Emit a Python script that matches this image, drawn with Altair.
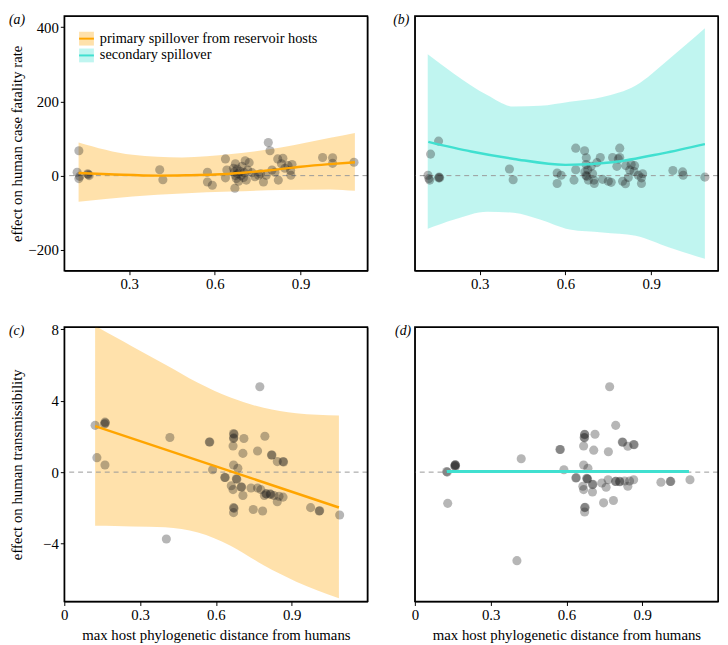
import altair as alt
import pandas as pd

FONT = "Liberation Serif"
ORANGE = "#FFA500"
TURQ = "#40E0D0"

# ---------------- panel (a): case fatality, primary spillover ----------------
a_px = [0.124, 0.118, 0.127, 0.124, 0.155, 0.157, 0.160, 0.407, 0.418, 0.574, 0.574, 0.591,
        0.637, 0.637, 0.642, 0.670, 0.672, 0.665, 0.668, 0.672, 0.675, 0.678, 0.680, 0.683,
        0.688, 0.692, 0.695, 0.700, 0.703, 0.706, 0.710, 0.715, 0.720, 0.730, 0.740, 0.753,
        0.760, 0.770, 0.780, 0.787, 0.793, 0.800, 0.810, 0.822, 0.820, 0.838, 0.833, 0.845,
        0.856, 0.865, 0.866, 0.870, 0.977, 1.012, 1.012, 1.087]
a_py = [67, 9, -2, -8, 5, 3, 0, 16, -11, 9, -17, -26,
        45, -6, 15, -34, 32, 20, 10, 0, -8, 18, 5, -15,
        12, 0, 25, -5, 8, 40, -12, 15, 35, 8, -3, 1,
        5, -17, 1, 89, 67, 15, 9, -12, 45, 47, 32, 20,
        27, 14, 1, 30, 49, 48, 33, 36]
a_line_x = [0.123, 0.25, 0.40, 0.50, 0.60, 0.70, 0.80, 0.90, 1.00, 1.09]
a_line_y = [7, 3, 0, 1, 3, 8, 15, 24, 31, 36]
a_band_x = [0.123, 0.312, 0.485, 0.658, 0.831, 1.004, 1.090]
a_band_hi = [89, 56, 49, 58, 76, 102, 115]
a_band_lo = [-70, -56, -48, -43, -39, -37, -41]

# ---------------- panel (b): case fatality, secondary spillover ----------------
b_px = [0.119, 0.125, 0.122, 0.128, 0.156, 0.156, 0.158, 0.160, 0.404, 0.417, 0.571, 0.571,
        0.585, 0.636, 0.636, 0.630, 0.667, 0.673, 0.672, 0.668, 0.672, 0.675, 0.678, 0.680,
        0.690, 0.695, 0.700, 0.701, 0.710, 0.722, 0.730, 0.750, 0.760, 0.765, 0.780, 0.785,
        0.790, 0.790, 0.800, 0.810, 0.811, 0.820, 0.825, 0.830, 0.840, 0.842, 0.855, 0.866,
        0.866, 0.870, 0.976, 1.010, 1.012, 1.088]
b_py = [1, -12, -8, 58, 93, -6, -4, -6, 18, -11, 7, -21,
        1, 74, 16, -12, 67, 48, 30, 10, 0, -2, 16, -12,
        25, 5, -12, -21, 35, 49, -10, -15, -18, 49, 25, 45,
        74, 49, -15, -22, 27, -5, 15, 30, 11, 27, 1, -21,
        -6, 5, 14, 10, 1, -4]
b_line_x = [0.12, 0.27, 0.42, 0.60, 0.765, 0.94, 1.088]
b_line_y = [91, 65, 45, 29, 36, 60, 85]
b_band_x = [0.118, 0.211, 0.326, 0.419, 0.511, 0.615, 0.730, 0.846, 0.961, 1.088]
b_band_hi = [327, 274, 217, 186, 188, 199, 212, 243, 313, 397]
b_band_lo = [-143, -118, -97, -100, -118, -145, -153, -162, -193, -224]

# ---------------- panel (c): transmissibility, primary spillover ----------------
c_px = [0.122, 0.161, 0.163, 0.159, 0.129, 0.161, 0.418, 0.574, 0.576, 0.587, 0.670, 0.672,
        0.670, 0.671, 0.668, 0.711, 0.707, 0.765, 0.794, 0.820, 0.822, 0.843, 0.866, 0.868,
        0.774, 0.670, 0.687, 0.635, 0.637, 0.681, 0.683, 0.661, 0.700, 0.702, 0.668, 0.707,
        0.739, 0.765, 0.778, 0.798, 0.800, 0.815, 0.817, 0.830, 0.850, 0.866, 0.843, 0.792,
        0.670, 0.672, 0.670, 0.748, 0.785, 0.975, 1.009, 1.011, 1.090, 0.404]
c_py = [2.62, 2.80, 2.75, 2.70, 0.81, 0.40, 1.94, 1.69, 1.69, 0.13, 2.16, 2.12,
        1.88, 1.92, 1.46, 1.88, 1.05, 1.18, 2.01, 0.96, 0.96, 0.59, 0.59, 0.57,
        4.78, 0.40, 0.22, -0.30, -0.30, -0.37, -0.40, -0.76, -0.83, -0.83, -0.98, -1.31,
        -0.89, -0.89, -0.98, -1.22, -1.22, -1.22, -1.25, -1.31, -1.35, -1.40, -1.66, -1.31,
        -1.99, -2.03, -2.27, -2.09, -2.18, -1.99, -2.18, -2.16, -2.40, -3.75]
c_line_x = [0.122, 1.087]
c_line_y = [2.58, -1.98]
c_band_x = [0.122, 0.200, 0.269, 0.399, 0.529, 0.658, 0.789, 0.918, 1.087]
c_band_hi = [8.20, 7.58, 7.04, 6.03, 5.01, 4.18, 3.60, 3.30, 3.17]
c_band_lo = [-3.01, -3.02, -3.04, -3.09, -3.38, -4.12, -5.22, -6.14, -7.07]

# ---------------- panel (d): transmissibility, secondary spillover ----------------
d_px = [0.126, 0.128, 0.159, 0.161, 0.160, 0.158, 0.160, 0.130, 0.421, 0.404, 0.574, 0.576,
        0.590, 0.672, 0.672, 0.670, 0.672, 0.668, 0.713, 0.708, 0.766, 0.795, 0.771, 0.821,
        0.823, 0.843, 0.866, 0.868, 0.668, 0.685, 0.637, 0.639, 0.682, 0.684, 0.680, 0.665,
        0.703, 0.705, 0.668, 0.703, 0.740, 0.757, 0.765, 0.794, 0.796, 0.810, 0.812, 0.830,
        0.850, 0.866, 0.843, 0.672, 0.674, 0.672, 0.747, 0.786, 0.974, 1.011, 1.013, 1.089]
d_py = [0.03, 0.00, 0.40, 0.38, 0.30, 0.35, 0.42, -1.75, 0.75, -4.96, 1.27, 1.27,
        0.13, 2.12, 2.10, 1.94, 1.92, 1.46, 2.12, 1.23, 1.14, 2.62, 4.78, 1.69,
        1.67, 1.45, 1.55, 1.53, 0.40, 0.22, -0.33, -0.31, -0.37, -0.39, -0.35, -0.79,
        -0.70, -0.68, -0.98, -1.11, -0.61, -0.85, -0.43, -0.52, -0.52, -0.52, -0.54, -0.50,
        -0.50, -0.43, -0.79, -1.99, -1.97, -2.23, -1.72, -1.59, -0.57, -0.52, -0.52, -0.43]
d_line_x = [0.126, 1.085]
d_line_y = [0.03, 0.03]

TOP_X = [0.073, 1.134]
TOP_Y = [-256, 430]
BOT_X = [0.0, 1.2]
BOT_Y = [-7.25, 8.13]

SERIES = ["primary spillover from reservoir hosts", "secondary spillover"]


def panel(px, py, lx, ly, bx, blo, bhi, color, xdom, ydom, xvals, yvals,
          xtitle, ytitle, w, h, tag, tag_dx, legend=False, line_w=2.5):
    xs = alt.Scale(domain=xdom, nice=False, zero=False)
    ys = alt.Scale(domain=ydom, nice=False, zero=False)
    xaxis = alt.Axis(values=xvals, grid=False, domain=False, ticks=True, tickSize=4,
                     tickColor="black", labelColor="black", labelFont=FONT, labelFontSize=15,
                     labelPadding=2, labelExpr="datum.value == 0 ? '0' : format(datum.value, '.1f')",
                     title=xtitle, titleFont=FONT, titleFontSize=15, titleFontWeight="normal",
                     titleColor="black", titlePadding=5, labelFlush=False)
    if ytitle is None:
        yaxis = None
    else:
        yaxis = alt.Axis(values=yvals, grid=False, domain=False, ticks=True, tickSize=4,
                         tickColor="black", labelColor="black", labelFont=FONT, labelFontSize=15,
                         labelPadding=2, format="d", title=ytitle, titleFont=FONT,
                         titleFontSize=15, titleFontWeight="normal", titleColor="black",
                         titleX=-48, titleY=h / 2, titleAngle=-90, titleAlign="center",
                         titleBaseline="middle", labelFlush=False)

    def X(f):
        return alt.X(f, type="quantitative", scale=xs, axis=xaxis)

    def Y(f):
        return alt.Y(f, type="quantitative", scale=ys, axis=yaxis)

    layers = []
    if bx is not None:
        band = pd.DataFrame({"x": bx, "lo": blo, "hi": bhi})
        layers.append(alt.Chart(band).mark_area(color=color, opacity=0.33, clip=True,
                                                interpolate="monotone")
                      .encode(x=X("x"), y=Y("lo"), y2="hi"))
    layers.append(alt.Chart(pd.DataFrame({"z": [0]})).mark_rule(color="#999999", strokeDash=[5, 4],
                                                                strokeWidth=1)
                  .encode(y=Y("z")))
    pts = pd.DataFrame({"x": px, "y": py})
    layers.append(alt.Chart(pts).mark_circle(size=85, color="#222222", opacity=0.33)
                  .encode(x=X("x"), y=Y("y")))
    line = pd.DataFrame({"x": lx, "y": ly})
    layers.append(alt.Chart(line).mark_line(color=color, strokeWidth=line_w, interpolate="monotone")
                  .encode(x=X("x"), y=Y("y")))
    one = pd.DataFrame({"t": [tag]})
    layers.append(alt.Chart(one).mark_rect(filled=False, stroke="black", strokeWidth=1.5)
                  .encode(x=alt.value(0), x2=alt.value(w), y=alt.value(0), y2=alt.value(h)))
    layers.append(alt.Chart(one).mark_text(
        font=FONT, fontSize=14, fontStyle="italic", align="left", baseline="middle", color="black")
        .encode(x=alt.value(tag_dx), y=alt.value(4), text="t:N"))
    if legend:
        cols = [ORANGE, TURQ]
        rows = [23, 40]
        for lab, col, ry in zip(SERIES, cols, rows):
            d1 = pd.DataFrame({"t": [lab]})
            layers.append(alt.Chart(d1).mark_rect(color=col, opacity=0.33)
                          .encode(x=alt.value(15), x2=alt.value(30),
                                  y=alt.value(ry - 7), y2=alt.value(ry + 7)))
            layers.append(alt.Chart(d1).mark_rule(color=col, strokeWidth=2)
                          .encode(x=alt.value(15), x2=alt.value(30), y=alt.value(ry)))
            layers.append(alt.Chart(d1).mark_text(font=FONT, fontSize=14.5, align="left",
                                                  baseline="middle", color="black")
                          .encode(x=alt.value(36), y=alt.value(ry), text="t:N"))
    return alt.layer(*layers).properties(width=w, height=h)


XT = "max host phylogenetic distance from humans"
pa = panel(a_px, a_py, a_line_x, a_line_y, a_band_x, a_band_lo, a_band_hi, ORANGE,
           TOP_X, TOP_Y, [0.3, 0.6, 0.9], [-200, 0, 200, 400], None,
           "effect on human case fatality rate", 307, 258, "(a)", -56, legend=True)
pb = panel(b_px, b_py, b_line_x, b_line_y, b_band_x, b_band_lo, b_band_hi, TURQ,
           TOP_X, TOP_Y, [0.3, 0.6, 0.9], None, None, None, 307, 258, "(b)", -22)
pc = panel(c_px, c_py, c_line_x, c_line_y, c_band_x, c_band_lo, c_band_hi, ORANGE,
           BOT_X, BOT_Y, [0, 0.3, 0.6, 0.9], [-4, 0, 4, 8], XT,
           "effect on human transmissibility", 307, 278, "(c)", -56)
pd_ = panel(d_px, d_py, d_line_x, d_line_y, None, None, None, TURQ,
            BOT_X, BOT_Y, [0, 0.3, 0.6, 0.9], None, XT, None, 307, 278, "(d)", -20, line_w=3)

chart = (alt.concat(pa, pb, pc, pd_, columns=2, spacing={"row": 57, "column": 48},
                    bounds="flush")
         .properties(padding={"left": 0, "top": 0, "right": 0, "bottom": 0})
         .configure_view(stroke="black", strokeWidth=1))

chart.save("out.html", embed_options={"renderer": "svg", "actions": False})
